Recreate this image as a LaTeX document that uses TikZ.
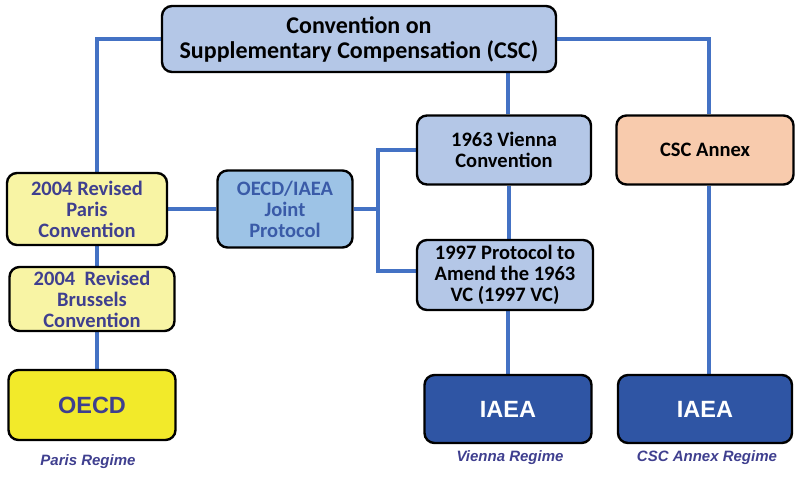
\documentclass[tikz,border=0pt]{standalone}
\usepackage{fontspec}
\setmainfont{Carlito}
\newfontfamily\arialfont{Liberation Sans}
\usetikzlibrary{backgrounds}
\definecolor{linkblue}{HTML}{4472C4}
\definecolor{cscblue}{HTML}{B4C7E7}
\definecolor{jointblue}{HTML}{9DC3E6}
\definecolor{parisyellow}{HTML}{F8F4A4}
\definecolor{oecdyellow}{HTML}{F2EA2A}
\definecolor{annexpeach}{HTML}{F8CBAD}
\definecolor{iaeablue}{HTML}{2F55A4}
\definecolor{parisink}{HTML}{3F3F8F}
\definecolor{jointink}{HTML}{3A5BA8}

\begin{document}
\begin{tikzpicture}[x=1pt,y=-1pt,
  box/.style={draw=black, line width=2.4pt, rounded corners=10pt, align=center,
    inner sep=0pt, font=\bfseries\fontsize{20.5}{21}\selectfont},
  orgbox/.style={box, font=\arialfont\bfseries\fontsize{23.5}{28}\selectfont},
  link/.style={draw=linkblue, line width=4pt},
  regime/.style={font=\arialfont\bfseries\itshape\fontsize{15}{17}\selectfont, text=parisink}
]
  \useasboundingbox (0,0) rectangle (795,479);

  % top convention
  \node[box, fill=cscblue, minimum width=394pt, minimum height=66pt,
    font=\bfseries\fontsize{24}{25}\selectfont] (csc) at (359,39)
    {Convention on\\Supplementary Compensation (CSC)};

  % Paris regime
  \node[box, fill=parisyellow, text=parisink, minimum width=160pt, minimum height=72pt]
    (paris) at (87,209) {2004 Revised\\Paris\\Convention};
  \node[box, fill=parisyellow, text=parisink, minimum width=165pt, minimum height=64pt]
    (brussels) at (92,299) {2004~~Revised\\Brussels\\Convention};
  \node[orgbox, fill=oecdyellow, text=parisink, minimum width=167pt, minimum height=70pt]
    (oecd) at (92,405) {OECD};
  \node[regime] (parisreg) at (88,462) {Paris Regime};

  % joint protocol
  \node[box, fill=jointblue, text=jointink, minimum width=135pt, minimum height=77pt]
    (joint) at (285,209) {OECD/IAEA\\Joint\\Protocol};

  % Vienna regime
  \node[box, fill=cscblue, minimum width=174pt, minimum height=69pt]
    (vienna) at (504,150) {1963 Vienna\\Convention};
  \node[box, fill=cscblue, minimum width=176pt, minimum height=70pt]
    (prot97) at (505,275) {1997 Protocol to\\Amend the 1963\\VC (1997 VC)};
  \node[orgbox, fill=iaeablue, text=white, minimum width=167pt, minimum height=68pt]
    (iaeav) at (508,409) {IAEA};
  \node[regime] (viennareg) at (510,458) {Vienna Regime};

  % CSC annex regime
  \node[box, fill=annexpeach, minimum width=177pt, minimum height=69pt]
    (annex) at (705,150) {CSC Annex};
  \node[orgbox, fill=iaeablue, text=white, minimum width=174pt, minimum height=68pt]
    (iaeac) at (705,409) {IAEA};
  \node[regime] (annexreg) at (707,458) {CSC Annex Regime};

  \coordinate (fork) at (378,209);

  \begin{scope}[on background layer]
    \draw[link] (csc.west) -| ([xshift=10pt]paris.north);
    \draw[link] (csc.east) -| ([xshift=4pt]annex.north);
    \draw[link] ([xshift=4pt]vienna.north) -- ([xshift=4pt]vienna.north |- csc.south);
    \draw[link] (paris.east) -- (joint.west);
    \draw[link] (joint.east) -- (fork);
    \draw[link] (vienna.west) -| (fork) |- ([yshift=4pt]prot97.west);
    \draw[link] ([xshift=5pt]brussels.north) -- ([xshift=5pt]brussels.north |- paris.south);
    \draw[link] ([xshift=5pt]brussels.south) -- ([xshift=5pt]brussels.south |- oecd.north);
    \draw[link] ([xshift=5pt]vienna.south) -- ([xshift=5pt]vienna.south |- prot97.north);
    \draw[link] ([xshift=3pt]prot97.south) -- ([xshift=3pt]prot97.south |- iaeav.north);
    \draw[link] ([xshift=4pt]annex.south) -- ([xshift=4pt]annex.south |- iaeac.north);
  \end{scope}
\end{tikzpicture}
\end{document}
